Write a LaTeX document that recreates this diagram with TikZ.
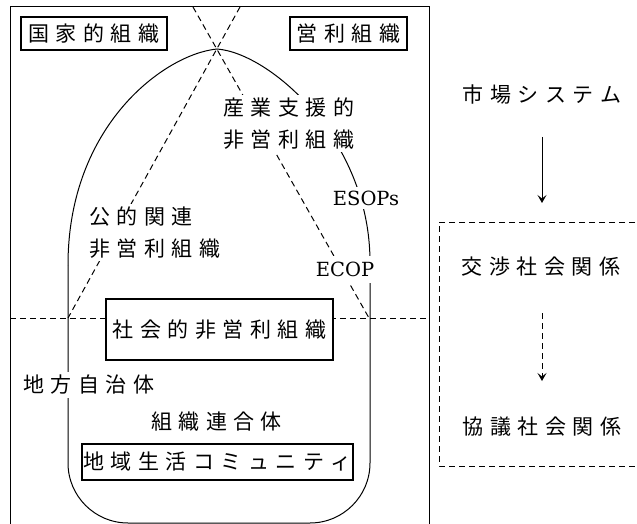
\documentclass[tikz,border=0pt]{standalone}
\usepackage{fontspec}
\newfontfamily\cjk{Noto Sans CJK JP}
\newfontfamily\lat{DejaVu Serif}
\usetikzlibrary{arrows.meta}
\newlength\cjkgap \setlength\cjkgap{6.5pt}
\def\jsp#1{\jspA#1\relax}
\def\jspA#1{#1\jspB}
\def\jspB#1{\ifx\relax#1\else\hspace{\cjkgap}#1\expandafter\jspB\fi}
\begin{document}
\begin{tikzpicture}[x=1pt,y=-1pt,
  soline/.style={line width=1pt},
  dashline/.style={line width=1pt, dash pattern=on 6pt off 4pt},
  jt/.style={font=\cjk\fontsize{21pt}{32pt}\selectfont, inner sep=3pt, fill=white, align=left},
  lt/.style={font=\lat\fontsize{19.5pt}{24pt}\selectfont, inner sep=4pt, fill=white},
  framebox/.style={draw, line width=1.1pt, fill=white, inner sep=0pt, font=\cjk\fontsize{21pt}{32pt}\selectfont},
  arr/.style={line width=1pt, -{Stealth[length=8pt,width=9pt,inset=3.5pt]}}]
\useasboundingbox (0,0) rectangle (637,524);
% outer frame
\coordinate (fbl) at (10,530); \coordinate (ftl) at (10,7);
\coordinate (ftr) at (429,7);  \coordinate (fbr) at (429,530);
\draw[soline] (fbl) -- (ftl) -- (ftr) -- (fbr);
% dashed cross and horizontal line
\coordinate (xtl) at (193,7);  \coordinate (xtr) at (240,7);
\coordinate (xl) at (68,318);  \coordinate (xr) at (369,318);
\coordinate (hl) at (10,318);  \coordinate (hr) at (429,318);
\draw[dashline] (xtl) -- (xr);
\draw[dashline] (xtr) -- (xl);
\draw[dashline] (hl) -- (hr);
% bullet shape
\coordinate (apex) at (217,49);
\coordinate (ol) at (68,265);  \coordinate (or) at (370,262);
\coordinate (obl) at (68,523); \coordinate (obr) at (370,523);
\draw[soline] (ol) .. controls (68,125) and (165,54) .. (apex) .. controls (270,53) and (370,140) .. (or);
\draw[soline, rounded corners=60pt] (ol) -- (obl) -- (obr) -- (or);
% boxes
\node[framebox, minimum width=146pt, minimum height=33pt] (kokka) at (94,33.5) {\jsp{国家的組織}};
\node[framebox, minimum width=117pt, minimum height=33pt] (eiri) at (348.5,33.5) {\jsp{営利組織}};
\node[framebox, minimum width=227pt, minimum height=61pt] (shakai) at (219.5,329.5) {\jsp{社会的非営利組織}};
\node[framebox, minimum width=271pt, minimum height=36pt] (chiiki) at (217.5,462) {\jsp{地域生活コミュニティ}};
% free labels
\node[jt, anchor=west] (sangyo) at (220,123.5) {\jsp{産業支援的}\\\jsp{非営利組織}};
\node[jt, anchor=west] (koteki) at (86,232.5) {\jsp{公的関連}\\\jsp{非営利組織}};
\node[lt] (esops) at (366,198) {ESOPs};
\node[lt, inner sep=6pt] (ecop) at (345,269.5) {ECOP};
\node[jt] (chiho) at (89,385) {\jsp{地方自治体}};
\node[jt] (rengo) at (216.5,422) {\jsp{組織連合体}};
% right column
\node[jt] (shijo) at (542,95) {\jsp{市場システム}};
\node[jt] (kosho) at (541,267) {\jsp{交渉社会関係}};
\node[jt] (kyogi) at (542,427) {\jsp{協議社会関係}};
\coordinate (dbtr) at (645,222); \coordinate (dbtl) at (439,222);
\coordinate (dbbl) at (439,466); \coordinate (dbbr) at (645,466);
\draw[dashline] (dbtr) -- (dbtl) -- (dbbl) -- (dbbr);
\coordinate (a1s) at (542,137); \coordinate (a1e) at (542,203);
\coordinate (a2s) at (542,313); \coordinate (a2e) at (542,381);
\draw[arr] (a1s) -- (a1e);
\draw[arr, dash pattern=on 6pt off 4pt] (a2s) -- (a2e);
\end{tikzpicture}
\end{document}
